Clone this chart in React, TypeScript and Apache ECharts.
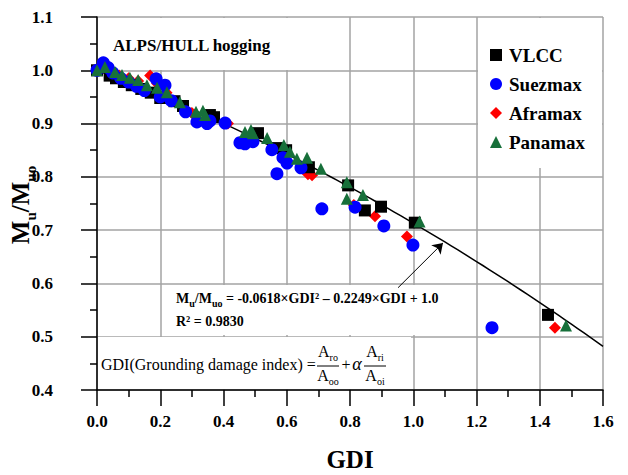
import React, { useEffect, useRef } from "react";
import * as echarts from "echarts";

const FONT = "'Liberation Serif', 'Times New Roman', Times, serif";

// GDI vs. normalised ultimate hogging moment, per tanker class
const vlcc: [number, number][] = [
  [0.0, 1.0], [0.04, 0.99], [0.06, 0.985], [0.085, 0.978], [0.11, 0.972],
  [0.14, 0.965], [0.17, 0.958], [0.2, 0.948], [0.245, 0.942], [0.272, 0.933],
  [0.357, 0.916], [0.37, 0.912], [0.509, 0.882], [0.569, 0.854], [0.598, 0.85],
  [0.67, 0.818], [0.794, 0.784], [0.847, 0.737], [0.898, 0.744], [1.005, 0.714],
  [1.426, 0.541],
];

const suezmax: [number, number][] = [
  [0.0, 1.0], [0.02, 1.014], [0.035, 1.005], [0.05, 0.995], [0.075, 0.985],
  [0.1, 0.978], [0.125, 0.97], [0.15, 0.962], [0.187, 0.984], [0.215, 0.972],
  [0.2, 0.95], [0.235, 0.943], [0.28, 0.922], [0.316, 0.903], [0.348, 0.9],
  [0.357, 0.905], [0.405, 0.901], [0.452, 0.864], [0.468, 0.862], [0.493, 0.866],
  [0.553, 0.851], [0.588, 0.836], [0.601, 0.826], [0.569, 0.806], [0.645, 0.817],
  [0.711, 0.74], [0.816, 0.743], [0.907, 0.708], [0.999, 0.672], [1.249, 0.517],
];

const aframax: [number, number][] = [
  [0.01, 1.005], [0.025, 1.012], [0.045, 1.0], [0.07, 0.99], [0.1, 0.985],
  [0.13, 0.98], [0.168, 0.99], [0.19, 0.975], [0.22, 0.958], [0.3, 0.92],
  [0.414, 0.9], [0.49, 0.87], [0.58, 0.848], [0.667, 0.805], [0.68, 0.803],
  [0.812, 0.747], [0.879, 0.726], [0.98, 0.688], [1.448, 0.517],
];

const panamax: [number, number][] = [
  [0.0, 1.0], [0.025, 1.006], [0.057, 0.997], [0.079, 0.991], [0.104, 0.986],
  [0.13, 0.982], [0.158, 0.972], [0.19, 0.967], [0.221, 0.959], [0.262, 0.94],
  [0.313, 0.922], [0.335, 0.924], [0.342, 0.916], [0.468, 0.884], [0.487, 0.888],
  [0.493, 0.882], [0.538, 0.873], [0.591, 0.86], [0.61, 0.847], [0.632, 0.834],
  [0.664, 0.836], [0.708, 0.815], [0.79, 0.79], [0.79, 0.759], [0.841, 0.766],
  [1.02, 0.716], [1.483, 0.521],
];

// Quadratic fit: Mu/Muo = a*GDI^2 + b*GDI + c
const FIT_A = -0.0618;
const FIT_B = -0.2249;
const FIT_C = 1.0;
const fitX: number[] = [];
for (let i = 0; i <= 80; i++) fitX.push(i * 0.02);
const fitLine = fitX.map((x) => [x, FIT_A * x * x + FIT_B * x + FIT_C]);

// arrow pointing from the equation to the fitted curve
const arrowFrom: [number, number] = [0.952, 0.592];
const arrowTo: [number, number] = [1.094, 0.676];

const seriesNames = ["VLCC", "Suezmax", "Aframax", "Panamax"];

export default function App() {
  const ref = useRef<HTMLDivElement>(null);

  useEffect(() => {
    if (!ref.current) return;
    const chart = echarts.init(ref.current, null, { renderer: "svg" });

    const axisFont = { fontFamily: FONT, fontWeight: "bold" as const, fontSize: 17, color: "#000" };
    const splitLine = { show: true, lineStyle: { color: "#a3a3a3", width: 1.5 } };
    const whiteRect = (x: number, y: number, w: number, h: number) => ({
      type: "rect",
      shape: { x, y, width: w, height: h },
      style: { fill: "#fff" },
      z: 1,
      silent: true,
    });
    const fracRich = {
      m: { fontFamily: FONT, fontSize: 16, lineHeight: 16, padding: [0, 0, 3, 0], verticalAlign: "bottom" },
      s: { fontFamily: FONT, fontSize: 10, lineHeight: 10, verticalAlign: "bottom" },
    };

    const option: any = {
      animation: false,
      backgroundColor: "#fff",
      grid: { left: 97, top: 17, right: 25, bottom: 85, containLabel: false },
      xAxis: {
        type: "value",
        min: 0,
        max: 1.6,
        interval: 0.2,
        axisLine: { show: true, onZero: false, lineStyle: { color: "#000", width: 1.5 } },
        axisTick: { show: true, length: 16, lineStyle: { color: "#000", width: 1.5 } },
        minorTick: { show: true, splitNumber: 2, length: 7, lineStyle: { color: "#000", width: 1.5 } },
        axisLabel: { ...axisFont, margin: 19, padding: [4, 0, 0, 0], formatter: (v: number) => v.toFixed(1) },
        splitLine,
      },
      yAxis: {
        type: "value",
        min: 0.4,
        max: 1.1,
        interval: 0.1,
        axisLine: { show: true, onZero: false, lineStyle: { color: "#000", width: 1.5 } },
        axisTick: { show: true, length: 16, lineStyle: { color: "#000", width: 1.5 } },
        minorTick: { show: true, splitNumber: 2, length: 7, lineStyle: { color: "#000", width: 1.5 } },
        axisLabel: { ...axisFont, margin: 34, padding: [0, 10, 0, 0], formatter: (v: number) => v.toFixed(1) },
        splitLine,
      },
      legend: {
        data: seriesNames,
        orient: "vertical",
        left: 485,
        top: 40,
        itemWidth: 12,
        itemHeight: 12,
        itemGap: 9,
        textStyle: {
          fontFamily: FONT,
          fontWeight: "bold",
          fontSize: 19,
          color: "#000",
          lineHeight: 20,
          padding: [0, 0, 0, 2],
        },
      },
      graphic: [
        whiteRect(98, 18, 190, 52),
        whiteRect(478, 18, 124, 150),
        whiteRect(163, 285, 255, 50),
        whiteRect(98, 337, 313, 52),
        {
          type: "text",
          x: 113,
          y: 45,
          z: 10,
          style: {
            text: "ALPS/HULL hogging",
            fontFamily: FONT,
            fontWeight: "bold",
            fontSize: 17,
            fill: "#000",
            verticalAlign: "middle",
          },
        },
        {
          type: "text",
          x: 350,
          y: 459,
          z: 10,
          style: {
            text: "GDI",
            fontFamily: FONT,
            fontWeight: "bold",
            fontSize: 25,
            fill: "#000",
            align: "center",
            verticalAlign: "middle",
          },
        },
        {
          type: "text",
          x: 25,
          y: 205,
          rotation: Math.PI / 2,
          z: 10,
          style: {
            text: "{m|M}{s|u}{m|/M}{s|uo}",
            align: "center",
            verticalAlign: "middle",
            fill: "#000",
            rich: {
              m: { fontFamily: FONT, fontWeight: "bold", fontSize: 25, lineHeight: 26, padding: [0, 0, 5, 0], verticalAlign: "bottom" },
              s: { fontFamily: FONT, fontWeight: "bold", fontSize: 15, lineHeight: 15, verticalAlign: "bottom" },
            },
          },
        },
        {
          type: "text",
          x: 176,
          y: 301,
          z: 10,
          style: {
            text: "{m|M}{s|u}{m|/M}{s|uo}{m| = -0.0618×GDI² – 0.2249×GDI + 1.0}",
            verticalAlign: "middle",
            fill: "#000",
            rich: {
              m: { fontFamily: FONT, fontWeight: "bold", fontSize: 14, lineHeight: 15, padding: [0, 0, 3, 0], verticalAlign: "bottom" },
              s: { fontFamily: FONT, fontWeight: "bold", fontSize: 10, lineHeight: 10, verticalAlign: "bottom" },
            },
          },
        },
        {
          type: "text",
          x: 176,
          y: 321,
          z: 10,
          style: {
            text: "R² = 0.9830",
            fontFamily: FONT,
            fontWeight: "bold",
            fontSize: 14,
            fill: "#000",
            verticalAlign: "middle",
          },
        },
        {
          type: "text",
          x: 101,
          y: 364,
          z: 10,
          style: {
            text: "GDI(Grounding damage index) =",
            fontFamily: FONT,
            fontSize: 16,
            fill: "#000",
            verticalAlign: "middle",
          },
        },
        ...[
          { cx: 328, num: "ro", den: "oo" },
          { cx: 375, num: "ri", den: "oi" },
        ].flatMap((f) => [
          {
            type: "text",
            x: f.cx,
            y: 354,
            z: 10,
            style: {
              text: `{m|A}{s|${f.num}}`,
              align: "center",
              verticalAlign: "middle",
              fill: "#000",
              rich: fracRich,
            },
          },
          {
            type: "line",
            z: 10,
            shape: { x1: f.cx - 11, y1: 366, x2: f.cx + 11, y2: 366 },
            style: { stroke: "#000", lineWidth: 1 },
          },
          {
            type: "text",
            x: f.cx,
            y: 378,
            z: 10,
            style: {
              text: `{m|A}{s|${f.den}}`,
              align: "center",
              verticalAlign: "middle",
              fill: "#000",
              rich: fracRich,
            },
          },
        ]),
        {
          type: "text",
          x: 346,
          y: 364,
          z: 10,
          style: { text: "+", fontFamily: FONT, fontSize: 16, fill: "#000", align: "center", verticalAlign: "middle" },
        },
        {
          type: "text",
          x: 357,
          y: 364,
          z: 10,
          style: { text: "α", fontFamily: FONT, fontStyle: "italic", fontSize: 18, fill: "#000", align: "center", verticalAlign: "middle" },
        },
      ],
      series: [
        {
          name: "Fit",
          type: "line",
          data: fitLine,
          showSymbol: false,
          symbol: "none",
          z: 1,
          lineStyle: { color: "#000", width: 1.5 },
          markLine: {
            silent: true,
            symbol: ["none", "arrow"],
            symbolSize: 10,
            label: { show: false },
            lineStyle: { color: "#000", width: 1, type: "solid" },
            data: [[{ coord: arrowFrom }, { coord: arrowTo }]],
          },
        },
        {
          name: "VLCC",
          type: "scatter",
          data: vlcc,
          symbol: "rect",
          symbolSize: 12,
          z: 3,
          itemStyle: { color: "#000", opacity: 1 },
        },
        {
          name: "Suezmax",
          type: "scatter",
          data: suezmax,
          symbol: "circle",
          symbolSize: 13,
          z: 4,
          itemStyle: { color: "#0000ff", opacity: 1 },
        },
        {
          name: "Aframax",
          type: "scatter",
          data: aframax,
          symbol: "diamond",
          symbolSize: 12,
          z: 2,
          itemStyle: { color: "#ff0000", opacity: 1 },
        },
        {
          name: "Panamax",
          type: "scatter",
          data: panamax,
          symbol: "triangle",
          symbolSize: 12,
          z: 5,
          itemStyle: { color: "#17703a", opacity: 1 },
        },
      ],
    };

    chart.setOption(option);
    return () => chart.dispose();
  }, []);

  return <div ref={ref} style={{ width: 628, height: 475, position: "absolute", left: 0, top: 0 }} />;
}
